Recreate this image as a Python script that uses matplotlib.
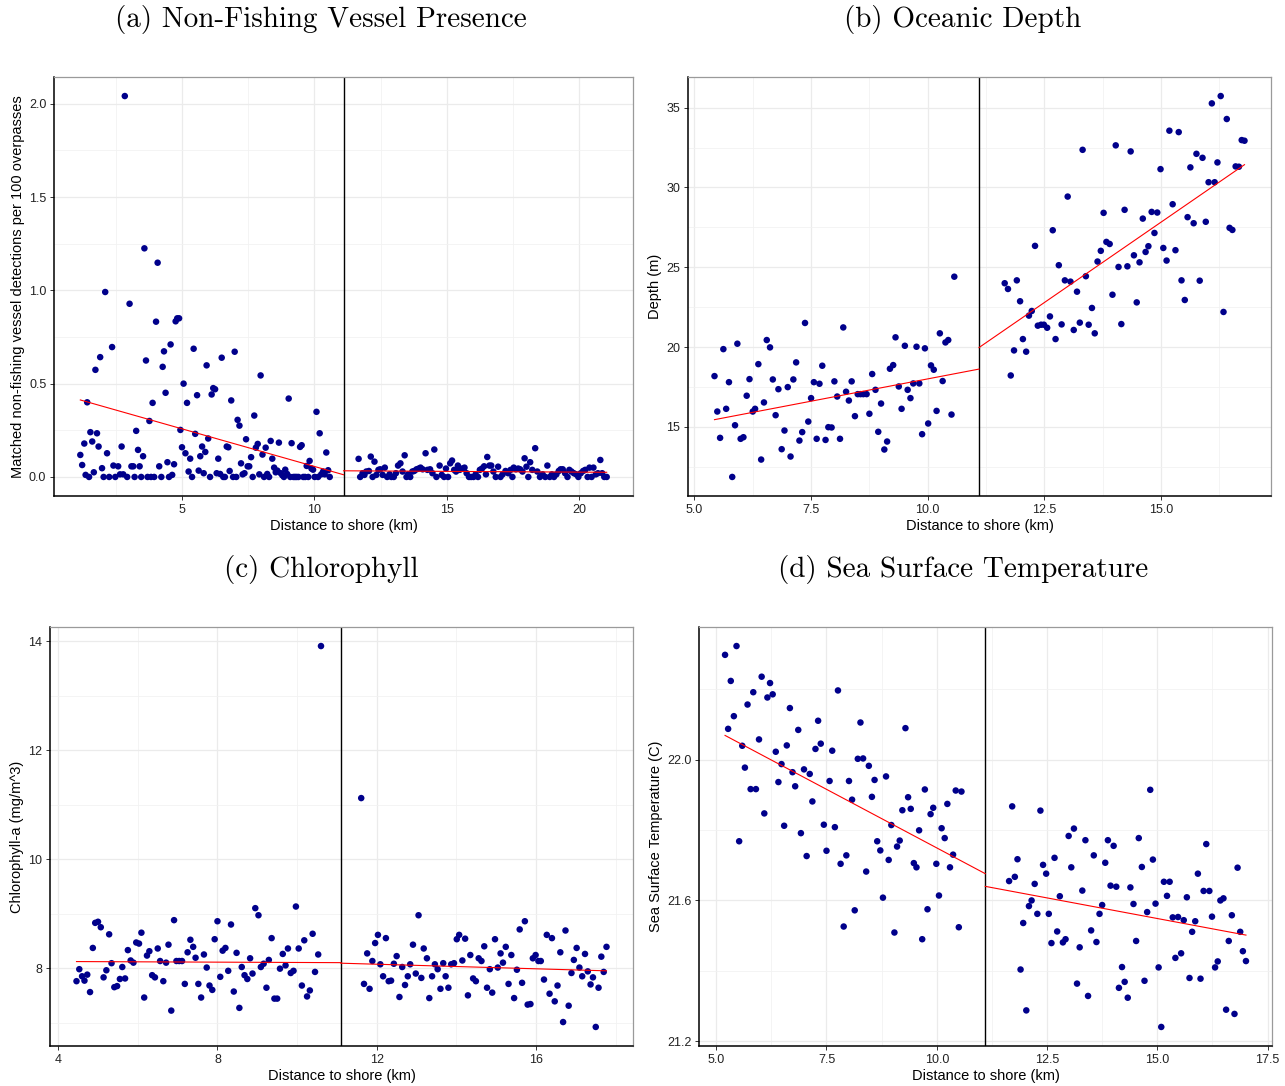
"""Regression discontinuity plots at the 11.1 km boundary."""
import matplotlib
matplotlib.use('Agg')
import matplotlib.pyplot as plt
import numpy as np
from matplotlib.ticker import MultipleLocator, FormatStrFormatter

plt.rcParams['font.family'] = ['Liberation Sans', 'DejaVu Sans']

CUTOFF = 11.1

# (a) matched non-fishing vessel detections per 100 overpasses
vessel_x = [
    1.16, 1.23, 1.31, 1.36, 1.42, 1.49, 1.54, 1.61, 1.67, 1.73, 1.79, 1.85, 1.91, 1.98, 2.04,
    2.10, 2.17, 2.25, 2.36, 2.41, 2.48, 2.59, 2.66, 2.72, 2.78, 2.84, 2.93, 3.02, 3.09, 3.16,
    3.21, 3.27, 3.34, 3.40, 3.46, 3.53, 3.58, 3.64, 3.70, 3.77, 3.83, 3.89, 3.95, 4.02, 4.08,
    4.14, 4.22, 4.27, 4.32, 4.38, 4.45, 4.51, 4.57, 4.63, 4.70, 4.76, 4.82, 4.89, 4.94, 5.00,
    5.06, 5.13, 5.19, 5.25, 5.31, 5.38, 5.44, 5.50, 5.57, 5.63, 5.69, 5.76, 5.82, 5.88, 5.93,
    5.99, 6.06, 6.12, 6.18, 6.25, 6.31, 6.37, 6.44, 6.50, 6.56, 6.62, 6.69, 6.75, 6.80, 6.86,
    6.93, 6.99, 7.05, 7.10, 7.17, 7.23, 7.29, 7.36, 7.42, 7.48, 7.54, 7.61, 7.67, 7.73, 7.79,
    7.86, 7.92, 7.97, 8.04, 8.10, 8.16, 8.22, 8.29, 8.35, 8.41, 8.48, 8.54, 8.60, 8.66, 8.73,
    8.79, 8.85, 8.90, 8.97, 9.03, 9.09, 9.14, 9.21, 9.27, 9.33, 9.40, 9.46, 9.52, 9.58, 9.65,
    9.71, 9.77, 9.82, 9.89, 9.95, 10.01, 10.08, 10.14, 10.20, 10.26, 10.33, 10.39, 10.45,
    10.52, 10.58,
    11.67, 11.73, 11.82, 11.89, 11.96, 12.06, 12.13, 12.20, 12.27, 12.34, 12.42, 12.49, 12.58,
    12.66, 12.75, 12.84, 12.91, 13.00, 13.08, 13.16, 13.25, 13.33, 13.41, 13.48, 13.54, 13.62,
    13.70, 13.77, 13.86, 13.94, 14.01, 14.09, 14.20, 14.27, 14.37, 14.46, 14.53, 14.61, 14.73,
    14.81, 14.90, 14.97, 15.05, 15.13, 15.20, 15.28, 15.35, 15.42, 15.49, 15.58, 15.67, 15.75,
    15.84, 15.92, 16.01, 16.09, 16.18, 16.25, 16.33, 16.41, 16.48, 16.53, 16.61, 16.68, 16.76,
    16.85, 16.94, 17.03, 17.11, 17.22, 17.32, 17.41, 17.48, 17.53, 17.61, 17.70, 17.77, 17.86,
    17.94, 18.01, 18.08, 18.15, 18.23, 18.34, 18.42, 18.52, 18.62, 18.72, 18.80, 18.89, 18.97,
    19.05, 19.14, 19.23, 19.30, 19.38, 19.47, 19.56, 19.63, 19.71, 19.80, 19.89, 19.97, 20.06,
    20.15, 20.23, 20.32, 20.39, 20.47, 20.54, 20.63, 20.71, 20.80, 20.87, 20.95, 21.04,
]
vessel_y = [
    0.118, 0.064, 0.179, 0.011, 0.400, 0.000, 0.240, 0.190, 0.025, 0.574, 0.234, 0.163, 0.642,
    0.047, 0.000, 0.991, 0.127, 0.000, 0.696, 0.061, 0.000, 0.057, 0.014, 0.163, 0.014, 2.041,
    0.000, 0.928, 0.057, 0.057, 0.000, 0.247, 0.145, 0.057, 0.000, 0.111, 1.225, 0.624, 0.000,
    0.300, 0.000, 0.397, 0.000, 0.832, 1.148, 0.057, 0.000, 0.590, 0.673, 0.451, 0.079, 0.000,
    0.710, 0.011, 0.068, 0.834, 0.850, 0.850, 0.252, 0.159, 0.500, 0.127, 0.397, 0.029, 0.098,
    0.000, 0.687, 0.231, 0.438, 0.034, 0.111, 0.163, 0.020, 0.134, 0.598, 0.206, 0.000, 0.442,
    0.476, 0.470, 0.020, 0.098, 0.016, 0.639, 0.000, 0.000, 0.163, 0.159, 0.032, 0.410, 0.000,
    0.671, 0.000, 0.306, 0.275, 0.073, 0.014, 0.020, 0.202, 0.057, 0.057, 0.106, 0.000, 0.329,
    0.157, 0.177, 0.014, 0.544, 0.120, 0.000, 0.157, 0.016, 0.000, 0.193, 0.098, 0.050, 0.025,
    0.034, 0.184, 0.020, 0.009, 0.000, 0.039, 0.016, 0.420, 0.000, 0.181, 0.000, 0.000, 0.000,
    0.000, 0.161, 0.170, 0.000, 0.000, 0.059, 0.000, 0.086, 0.045, 0.039, 0.000, 0.349, 0.000,
    0.234, 0.014, 0.029, 0.014, 0.131, 0.036, 0.000,
    0.097, 0.000, 0.020, 0.011, 0.029, 0.032, 0.109, 0.000, 0.082, 0.011, 0.038, 0.041, 0.011,
    0.050, 0.000, 0.014, 0.000, 0.000, 0.020, 0.061, 0.073, 0.029, 0.116, 0.000, 0.014, 0.000,
    0.029, 0.032, 0.041, 0.045, 0.050, 0.041, 0.127, 0.038, 0.041, 0.020, 0.147, 0.000, 0.061,
    0.011, 0.000, 0.045, 0.000, 0.073, 0.088, 0.038, 0.029, 0.061, 0.038, 0.045, 0.050, 0.020,
    0.000, 0.000, 0.000, 0.014, 0.000, 0.038, 0.045, 0.057, 0.014, 0.107, 0.061, 0.061, 0.029,
    0.000, 0.055, 0.000, 0.014, 0.032, 0.020, 0.038, 0.000, 0.050, 0.041, 0.045, 0.041, 0.029,
    0.100, 0.055, 0.000, 0.079, 0.038, 0.154, 0.029, 0.000, 0.014, 0.000, 0.061, 0.000, 0.014,
    0.000, 0.014, 0.032, 0.041, 0.041, 0.020, 0.000, 0.038, 0.029, 0.020, 0.014, 0.000, 0.020,
    0.032, 0.038, 0.000, 0.050, 0.000, 0.050, 0.014, 0.020, 0.091, 0.020, 0.000, 0.000,
]

# (b) oceanic depth (m)
depth_x = [
    5.43, 5.49, 5.55, 5.62, 5.68, 5.74, 5.81, 5.87, 5.92, 5.99, 6.05, 6.12, 6.18, 6.25, 6.30,
    6.37, 6.43, 6.49, 6.55, 6.62, 6.68, 6.74, 6.80, 6.87, 6.93, 7.00, 7.06, 7.12, 7.18, 7.25,
    7.31, 7.37, 7.44, 7.50, 7.56, 7.62, 7.68, 7.74, 7.81, 7.87, 7.94, 8.00, 8.06, 8.12, 8.19,
    8.25, 8.31, 8.37, 8.44, 8.50, 8.56, 8.62, 8.69, 8.75, 8.81, 8.88, 8.94, 9.00, 9.07, 9.13,
    9.19, 9.26, 9.31, 9.38, 9.44, 9.51, 9.57, 9.63, 9.69, 9.76, 9.82, 9.88, 9.94, 10.01, 10.07,
    10.13, 10.19, 10.26, 10.32, 10.38, 10.44, 10.51, 10.57,
    11.65, 11.72, 11.78, 11.85, 11.91, 11.98, 12.04, 12.11, 12.17, 12.23, 12.30, 12.36, 12.43,
    12.49, 12.56, 12.62, 12.68, 12.74, 12.81, 12.87, 12.94, 13.00, 13.06, 13.13, 13.20, 13.26,
    13.32, 13.39, 13.45, 13.52, 13.58, 13.64, 13.71, 13.77, 13.83, 13.90, 13.96, 14.03, 14.09,
    14.15, 14.22, 14.28, 14.35, 14.42, 14.48, 14.54, 14.61, 14.67, 14.73, 14.80, 14.86, 14.92,
    14.99, 15.05, 15.12, 15.18, 15.25, 15.31, 15.38, 15.44, 15.51, 15.57, 15.63, 15.70, 15.76,
    15.83, 15.89, 15.96, 16.02, 16.09, 16.15, 16.21, 16.28, 16.34, 16.41, 16.47, 16.53, 16.60,
    16.67, 16.73, 16.79,
]
depth_y = [
    18.18, 15.96, 14.31, 19.87, 16.13, 17.80, 11.86, 15.10, 20.21, 14.25, 14.35, 16.95, 17.99,
    15.96, 16.13, 18.93, 12.95, 16.53, 20.44, 19.98, 17.97, 15.73, 17.36, 13.60, 14.77, 17.49,
    13.14, 17.97, 19.04, 14.14, 14.67, 21.51, 15.33, 16.80, 17.80, 14.25, 17.70, 18.83, 14.18,
    14.98, 14.96, 17.85, 16.90, 14.25, 21.23, 17.20, 16.65, 17.85, 15.67, 17.05, 17.05, 17.05,
    17.05, 15.82, 18.31, 17.32, 14.69, 16.46, 13.58, 14.08, 18.64, 18.87, 20.61, 17.53, 16.13,
    20.08, 17.32, 16.80, 17.72, 20.02, 17.72, 14.54, 19.92, 15.21, 18.85, 18.58, 16.00, 20.86,
    17.87, 20.29, 20.44, 15.77, 24.41,
    24.00, 23.64, 18.22, 19.79, 24.18, 22.87, 20.50, 19.71, 21.97, 22.26, 26.34, 21.34, 21.40,
    21.40, 21.21, 21.92, 27.32, 20.50, 25.13, 21.42, 24.18, 29.43, 24.10, 21.07, 23.47, 21.53,
    32.36, 24.44, 21.40, 22.45, 20.86, 25.36, 26.03, 28.41, 26.59, 26.46, 23.28, 32.64, 25.02,
    21.44, 28.60, 25.06, 32.26, 25.75, 22.80, 25.31, 28.05, 25.96, 26.32, 28.47, 27.15, 28.43,
    31.15, 26.21, 25.42, 33.56, 28.95, 26.07, 33.47, 24.18, 22.95, 28.14, 31.26, 27.76, 32.11,
    24.16, 31.86, 27.85, 30.33, 35.27, 30.33, 31.57, 35.73, 22.20, 34.29, 27.47, 27.34, 31.32,
    31.30, 32.97, 32.93,
]

# (c) chlorophyll-a (mg/m^3)
chl_x = [
    4.46, 4.53, 4.60, 4.66, 4.73, 4.80, 4.87, 4.93, 5.00, 5.07, 5.14, 5.21, 5.28, 5.34, 5.41,
    5.48, 5.55, 5.61, 5.68, 5.75, 5.82, 5.89, 5.96, 6.03, 6.09, 6.16, 6.23, 6.29, 6.36, 6.43,
    6.50, 6.56, 6.64, 6.71, 6.77, 6.84, 6.91, 6.97, 7.04, 7.11, 7.18, 7.25, 7.32, 7.39, 7.45,
    7.52, 7.59, 7.66, 7.73, 7.80, 7.87, 7.93, 8.00, 8.07, 8.13, 8.20, 8.27, 8.34, 8.41, 8.48,
    8.55, 8.61, 8.68, 8.75, 8.82, 8.88, 8.95, 9.03, 9.09, 9.16, 9.23, 9.29, 9.36, 9.43, 9.50,
    9.57, 9.64, 9.71, 9.77, 9.84, 9.91, 9.97, 10.04, 10.12, 10.18, 10.25, 10.32, 10.39, 10.45,
    10.53, 10.60,
    11.61, 11.68, 11.76, 11.82, 11.89, 11.96, 12.03, 12.09, 12.16, 12.23, 12.30, 12.36, 12.43,
    12.50, 12.57, 12.64, 12.71, 12.78, 12.84, 12.91, 12.98, 13.05, 13.12, 13.18, 13.26, 13.32,
    13.39, 13.46, 13.53, 13.60, 13.67, 13.73, 13.80, 13.87, 13.94, 14.01, 14.07, 14.15, 14.22,
    14.29, 14.35, 14.42, 14.49, 14.56, 14.63, 14.70, 14.77, 14.84, 14.90, 14.97, 15.04, 15.11,
    15.17, 15.24, 15.31, 15.38, 15.45, 15.52, 15.59, 15.65, 15.72, 15.79, 15.86, 15.92, 15.99,
    16.06, 16.12, 16.20, 16.27, 16.34, 16.40, 16.47, 16.54, 16.61, 16.68, 16.74, 16.82, 16.89,
    16.95, 17.02, 17.09, 17.16, 17.23, 17.30, 17.37, 17.43, 17.50, 17.57, 17.64, 17.70, 17.77,
]
chl_y = [
    7.76, 7.98, 7.85, 7.77, 7.88, 7.56, 8.37, 8.83, 8.85, 8.75, 7.83, 7.96, 8.62, 8.09, 7.65,
    7.67, 7.80, 8.02, 7.81, 8.33, 8.14, 8.10, 8.47, 8.45, 8.65, 7.46, 8.23, 8.31, 7.87, 7.83,
    8.36, 8.13, 7.76, 8.10, 8.43, 7.22, 8.88, 8.13, 8.13, 8.13, 7.71, 8.29, 8.52, 8.39, 8.19,
    7.71, 7.46, 8.25, 8.01, 7.68, 7.60, 8.53, 8.86, 7.84, 8.32, 8.37, 7.95, 8.80, 7.57, 8.28,
    7.27, 8.02, 7.87, 7.80, 8.18, 7.90, 9.10, 8.97, 8.02, 8.08, 7.64, 8.15, 8.55, 7.44, 7.44,
    7.99, 8.26, 8.05, 8.36, 7.91, 7.95, 9.13, 8.36, 7.68, 8.51, 7.48, 7.59, 8.63, 7.93, 8.25,
    13.91,
    11.12, 7.71, 8.27, 7.62, 8.13, 8.46, 8.61, 8.07, 7.85, 8.55, 7.76, 7.77, 8.08, 8.22, 7.47,
    8.02, 7.69, 7.85, 8.07, 8.43, 7.90, 8.97, 7.82, 8.36, 8.18, 7.45, 7.85, 8.07, 7.98, 7.62,
    8.09, 7.85, 7.64, 8.07, 8.09, 8.53, 8.61, 8.14, 8.54, 7.50, 8.24, 7.81, 7.76, 8.18, 8.13,
    8.40, 7.64, 7.98, 7.55, 8.53, 8.01, 8.27, 8.10, 8.39, 7.71, 8.24, 7.45, 7.97, 8.71, 7.73,
    8.86, 7.33, 7.34, 8.18, 8.24, 8.13, 8.13, 7.79, 8.61, 7.53, 8.55, 7.39, 7.68, 8.29, 7.01,
    8.69, 7.31, 7.91, 8.15, 8.37, 8.01, 7.85, 8.26, 7.94, 7.70, 7.83, 6.92, 7.64, 8.21, 7.93,
    8.39,
]

# (d) sea surface temperature (C)
sst_x = [
    5.20, 5.27, 5.33, 5.40, 5.46, 5.52, 5.59, 5.65, 5.71, 5.78, 5.84, 5.90, 5.97, 6.03, 6.09,
    6.16, 6.22, 6.28, 6.35, 6.41, 6.48, 6.54, 6.60, 6.67, 6.73, 6.79, 6.86, 6.92, 6.99, 7.05,
    7.12, 7.18, 7.25, 7.31, 7.37, 7.44, 7.50, 7.57, 7.63, 7.69, 7.76, 7.82, 7.89, 7.95, 8.01,
    8.08, 8.14, 8.21, 8.27, 8.33, 8.40, 8.46, 8.53, 8.59, 8.65, 8.72, 8.78, 8.85, 8.91, 8.97,
    9.04, 9.10, 9.16, 9.22, 9.29, 9.35, 9.41, 9.48, 9.54, 9.60, 9.67, 9.73, 9.79, 9.86, 9.92,
    9.99, 10.05, 10.11, 10.18, 10.24, 10.30, 10.37, 10.43, 10.50, 10.56,
    11.64, 11.71, 11.77, 11.83, 11.90, 11.96, 12.03, 12.09, 12.15, 12.22, 12.28, 12.35, 12.41,
    12.48, 12.54, 12.60, 12.67, 12.73, 12.79, 12.86, 12.92, 12.99, 13.05, 13.11, 13.18, 13.24,
    13.30, 13.37, 13.43, 13.50, 13.56, 13.62, 13.69, 13.75, 13.82, 13.88, 13.94, 14.01, 14.07,
    14.13, 14.20, 14.26, 14.33, 14.39, 14.46, 14.52, 14.58, 14.65, 14.71, 14.77, 14.84, 14.90,
    14.96, 15.03, 15.09, 15.15, 15.22, 15.28, 15.35, 15.41, 15.47, 15.54, 15.60, 15.67, 15.73,
    15.79, 15.86, 15.92, 15.98, 16.05, 16.11, 16.18, 16.24, 16.31, 16.37, 16.43, 16.50, 16.56,
    16.62, 16.69, 16.75, 16.82, 16.88, 16.94, 17.01,
]
sst_y = [
    22.297, 22.087, 22.223, 22.123, 22.322, 21.768, 22.039, 21.977, 22.156, 21.916, 22.191,
    21.916, 22.057, 22.235, 21.847, 22.176, 22.217, 22.185, 22.022, 21.936, 21.987, 21.812,
    22.040, 22.146, 21.964, 21.924, 22.084, 21.791, 21.972, 21.726, 21.959, 21.881, 22.030,
    22.110, 22.045, 21.815, 21.741, 21.939, 22.025, 21.808, 22.196, 21.704, 21.526, 21.728,
    21.939, 21.886, 21.572, 22.002, 22.105, 22.003, 21.682, 21.982, 21.894, 21.942, 21.768,
    21.742, 21.608, 21.952, 21.715, 21.814, 21.509, 21.753, 21.770, 21.856, 22.089, 21.893,
    21.860, 21.706, 21.694, 21.799, 21.490, 21.915, 21.575, 21.845, 21.863, 21.704, 21.614,
    21.805, 21.777, 21.874, 21.694, 21.730, 21.912, 21.524, 21.909,
    21.655, 21.867, 21.667, 21.717, 21.404, 21.536, 21.288, 21.584, 21.600, 21.647, 21.562,
    21.855, 21.701, 21.676, 21.562, 21.479, 21.721, 21.512, 21.612, 21.481, 21.490, 21.783,
    21.694, 21.804, 21.364, 21.467, 21.628, 21.771, 21.329, 21.515, 21.728, 21.482, 21.562,
    21.587, 21.707, 21.771, 21.642, 21.755, 21.639, 21.352, 21.411, 21.369, 21.324, 21.637,
    21.590, 21.485, 21.777, 21.695, 21.372, 21.567, 21.914, 21.716, 21.591, 21.410, 21.241,
    21.653, 21.613, 21.653, 21.552, 21.437, 21.553, 21.450, 21.544, 21.609, 21.380, 21.511,
    21.541, 21.676, 21.378, 21.627, 21.760, 21.627, 21.554, 21.410, 21.427, 21.600, 21.606,
    21.290, 21.485, 21.558, 21.278, 21.693, 21.511, 21.456, 21.428,
]

# RD estimates per side: (fitted value at the cutoff, slope per km), [left, right]
vessel_fit = [(0.012, -0.0403), (0.033, -0.0008)]
depth_fit = [(18.62, 0.559), (19.97, 2.014)]
chl_fit = [(8.10, -0.003), (8.09, -0.021)]
sst_fit = [(21.676, -0.0665), (21.640, -0.0234)]

W, H = 1285, 1086


def px_axes(fig, left, top, right, bottom):
    return fig.add_axes([left / W, 1 - bottom / H, (right - left) / W, (bottom - top) / H])


def rd_panel(ax, x, y, fit, ylabel, xmaj, ymaj, xfmt, yfmt):
    x = np.asarray(x)
    y = np.asarray(y)
    ax.scatter(x, y, s=22, color='#00008B', edgecolors='none', zorder=3)
    # linear fit on each side, drawn from the outermost point to the cutoff
    spans = [(x[x < CUTOFF].min(), CUTOFF), (CUTOFF, x[x >= CUTOFF].max())]
    for (c0, slope), (lo, hi) in zip(fit, spans):
        xs = np.array([lo, hi])
        ax.plot(xs, c0 + slope * (xs - CUTOFF), color='red', lw=0.8, zorder=4)
    ax.axvline(CUTOFF, color='black', lw=1.0, zorder=2)

    ax.xaxis.set_major_locator(MultipleLocator(xmaj))
    ax.xaxis.set_minor_locator(MultipleLocator(xmaj / 2))
    ax.yaxis.set_major_locator(MultipleLocator(ymaj))
    ax.yaxis.set_minor_locator(MultipleLocator(ymaj / 2))
    ax.xaxis.set_major_formatter(FormatStrFormatter(xfmt))
    ax.yaxis.set_major_formatter(FormatStrFormatter(yfmt))
    ax.grid(which='major', color='#ebebeb', lw=0.9, zorder=0)
    ax.grid(which='minor', color='#f2f2f2', lw=0.6, zorder=0)
    ax.set_axisbelow(True)
    ax.tick_params(which='major', length=3, width=0.7, color='#333333',
                   labelsize=9, labelcolor='#222222', pad=2.5)
    ax.tick_params(which='minor', length=0)
    for s in ('top', 'right'):
        ax.spines[s].set_color('#9a9a9a')
        ax.spines[s].set_linewidth(0.9)
    for s in ('left', 'bottom'):
        ax.spines[s].set_color('black')
        ax.spines[s].set_linewidth(1.1)
    ax.set_xlabel("Distance to shore (km)", fontsize=10.5, labelpad=2.5)
    ax.set_ylabel(ylabel, fontsize=10.5, labelpad=3)


fig = plt.figure(figsize=(W / 100, H / 100), dpi=100)

ax_a = px_axes(fig, 54, 77, 633, 496)
rd_panel(ax_a, vessel_x, vessel_y, vessel_fit,
         "Matched non-fishing vessel detections per 100 overpasses",
         5, 0.5, '%d', '%.1f')

ax_b = px_axes(fig, 688, 77, 1271, 496)
rd_panel(ax_b, depth_x, depth_y, depth_fit, "Depth (m)", 2.5, 5, '%.1f', '%d')

ax_c = px_axes(fig, 50, 627, 633, 1046)
rd_panel(ax_c, chl_x, chl_y, chl_fit, "Chlorophyll-a (mg/m^3)", 4, 2, '%d', '%d')

ax_d = px_axes(fig, 699, 627, 1272, 1046)
rd_panel(ax_d, sst_x, sst_y, sst_fit, "Sea Surface Temperature (C)",
         2.5, 0.4, '%.1f', '%.1f')

titles = [("(a) Non-Fishing Vessel Presence", 321, 19),
          ("(b) Oceanic Depth", 963, 19),
          ("(c) Chlorophyll", 321, 569),
          ("(d) Sea Surface Temperature", 963, 569)]
for txt, cx, cy in titles:
    fig.text(cx / W, 1 - cy / H, txt, family='cmr10', fontsize=21,
             ha='center', va='center')

fig.savefig('out.png', dpi=100)
